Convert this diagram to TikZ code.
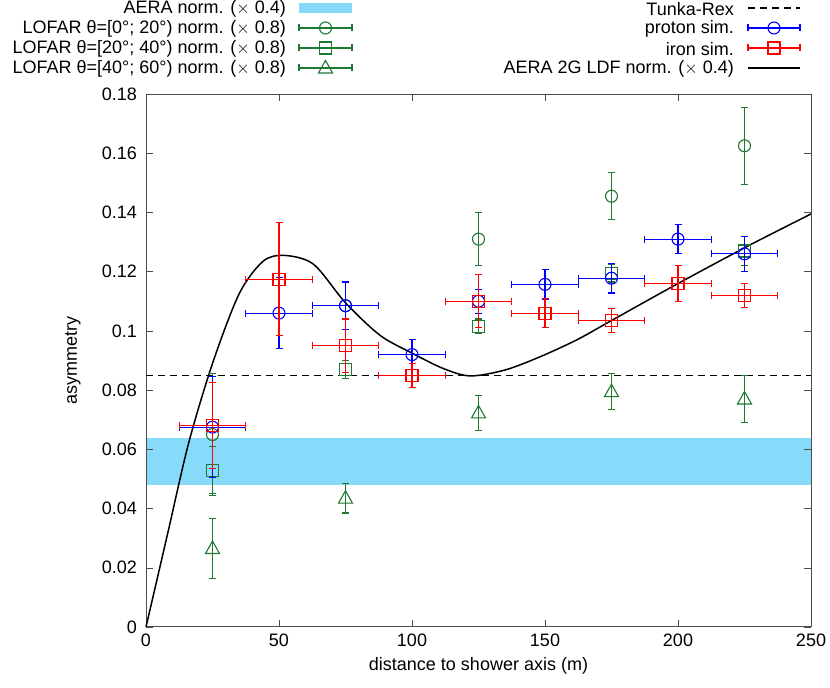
\documentclass[tikz,border=0pt]{standalone}
\usepackage{fontspec}
\setmainfont{Liberation Sans}
\usetikzlibrary{positioning,calc}

\definecolor{aerablue}{RGB}{135,218,250}
\definecolor{lofargreen}{RGB}{30,120,50}

\tikzset{
  bar/.style={line width=1.1pt},
  mk/.style={line width=1.1pt},
  lbl/.style={inner sep=1pt, font=\fontsize{18}{21}\selectfont},
}
% error bar with caps: colour, x, y, dx, dy
\newcommand{\ebar}[5]{%
  \draw[bar,#1] ($(#2,#3)+(0,-#5)$) -- ($(#2,#3)+(0,#5)$);
  \draw[bar,#1] ($(#2,#3)+(-3.5pt,-#5)$) -- ($(#2,#3)+(3.5pt,-#5)$);
  \draw[bar,#1] ($(#2,#3)+(-3.5pt,#5)$) -- ($(#2,#3)+(3.5pt,#5)$);
  \ifdim #4pt>0pt
  \draw[bar,#1] ($(#2,#3)+(-#4,0)$) -- ($(#2,#3)+(#4,0)$);
  \draw[bar,#1] ($(#2,#3)+(-#4,-3.5pt)$) -- ($(#2,#3)+(-#4,3.5pt)$);
  \draw[bar,#1] ($(#2,#3)+(#4,-3.5pt)$) -- ($(#2,#3)+(#4,3.5pt)$);
  \fi}
\newcommand{\mcirc}[3]{\draw[mk,#1] (#2,#3) circle (6pt);}
\newcommand{\msq}[3]{\draw[mk,#1] ($(#2,#3)+(-6pt,-6pt)$) rectangle ($(#2,#3)+(6pt,6pt)$);}
\newcommand{\mtri}[3]{\draw[mk,#1] ($(#2,#3)+(0,7.5pt)$) -- ($(#2,#3)+(-7pt,-5pt)$) -- ($(#2,#3)+(7pt,-5pt)$) -- cycle;}

\begin{document}
\begin{tikzpicture}[x=2.66pt, y=2961pt]
\useasboundingbox (-146pt,-61pt) rectangle (684pt,627pt);

% AERA band
\fill[aerablue] (0,0.048) rectangle (250,0.064);

% frame and ticks
\foreach \t in {0,0.02,...,0.18}{
  \draw[gray!60!black] (0,\t) -- ++(7pt,0);
  \draw[gray!60!black] (250,\t) -- ++(-7pt,0);
}
\foreach \t/\l in {0/0,0.02/0.02,0.04/0.04,0.06/0.06,0.08/0.08,0.1/0.1,0.12/0.12,0.14/0.14,0.16/0.16,0.18/0.18}
  \node[lbl, anchor=east] (yt\l) at ($(0,\t)+(-8pt,0)$) {\l};
\foreach \t in {0,50,...,250}{
  \draw[gray!60!black] (\t,0) -- ++(0,7pt);
  \draw[gray!60!black] (\t,0.18) -- ++(0,-7pt);
  \node[lbl, anchor=north] (xt\t) at ($(\t,0)+(0,-6pt)$) {\t};
}
\draw[gray!60!black, line width=1pt] (0,0) rectangle (250,0.18);

\node[lbl] (xlabel) at ($(125,0)+(0,-39pt)$) {distance to shower axis (m)};
\node[lbl, rotate=90] (ylabel) at ($(0,0.09)+(-73pt,0)$) {asymmetry};

% Tunka-Rex
\draw[black, line width=1.2pt, dash pattern=on 7pt off 5pt] (0,0.085) -- (250,0.085);

% AERA 2G LDF
\draw[black, line width=1.5pt] plot[smooth, tension=0.5] coordinates {
  (0,0) (8,0.031) (16,0.062) (25,0.089) (35,0.1125) (44,0.1235) (52,0.1255)
  (63,0.1225) (75,0.1095) (88,0.0985) (100,0.0925) (112,0.0872) (122,0.0848)
  (135,0.0868) (148,0.0912) (162,0.097) (175,0.1035) (200,0.116) (227,0.129) (250,0.1395)};

% LOFAR 0-20
\foreach \x/\y/\e in {25/0.065/0.0205,75/0.1085/0.008,125/0.131/0.009,175/0.1455/0.008,225/0.1625/0.013}{
  \ebar{lofargreen}{\x}{\y}{0}{\e}
  \mcirc{lofargreen}{\x}{\y}
}
% LOFAR 20-40
\foreach \x/\y/\e in {25/0.053/0.008,75/0.087/0.003,125/0.1015/0.0025,175/0.1195/0.003,225/0.127/0.005}{
  \ebar{lofargreen}{\x}{\y}{0}{\e}
  \msq{lofargreen}{\x}{\y}
}
% LOFAR 40-60
\foreach \x/\y/\e in {25/0.0265/0.0102,75/0.0435/0.005,125/0.0723/0.006,175/0.0795/0.006,225/0.077/0.008}{
  \ebar{lofargreen}{\x}{\y}{0}{\e}
  \mtri{lofargreen}{\x}{\y}
}
% proton
\foreach \x/\y/\e in {25/0.0675/0.017,50/0.106/0.012,75/0.1085/0.008,100/0.092/0.005,125/0.110/0.004,150/0.1157/0.005,175/0.1178/0.005,200/0.131/0.005,225/0.126/0.006}{
  \ebar{blue}{\x}{\y}{12.5}{\e}
  \mcirc{blue}{\x}{\y}
}
% iron
\foreach \x/\y/\e in {25/0.068/0.0145,50/0.1175/0.019,75/0.095/0.009,100/0.085/0.004,125/0.110/0.009,150/0.106/0.005,175/0.1035/0.004,200/0.116/0.006,225/0.112/0.004}{
  \ebar{red}{\x}{\y}{12.5}{\e}
  \msq{red}{\x}{\y}
}

% legend, left column
\node[lbl, anchor=east] (leg1) at (141pt,618pt) {AERA norm. ($\times$ 0.4)};
\node[lbl, anchor=east] (leg2) at (141pt,598pt) {LOFAR θ=[0°; 20°) norm. ($\times$ 0.8)};
\node[lbl, anchor=east] (leg3) at (141pt,578pt) {LOFAR θ=[20°; 40°) norm. ($\times$ 0.8)};
\node[lbl, anchor=east] (leg4) at (141pt,558pt) {LOFAR θ=[40°; 60°) norm. ($\times$ 0.8)};
\fill[aerablue] (153pt,614pt) rectangle (206pt,624pt);
\foreach \yy/\m in {599/mcirc,579/msq,559/mtri}{
  \draw[bar,lofargreen] (153pt,\yy pt) -- (206pt,\yy pt);
  \draw[bar,lofargreen] (153pt,\yy pt-3.5pt) -- (153pt,\yy pt+3.5pt);
  \draw[bar,lofargreen] (206pt,\yy pt-3.5pt) -- (206pt,\yy pt+3.5pt);
  \csname\m\endcsname{lofargreen}{179.5pt}{\yy pt}
}
% legend, right column
\node[lbl, anchor=east] (leg5) at (589pt,618pt) {Tunka-Rex};
\node[lbl, anchor=east] (leg6) at (589pt,598pt) {proton sim.};
\node[lbl, anchor=east] (leg7) at (589pt,578pt) {iron sim.};
\node[lbl, anchor=east] (leg8) at (589pt,558pt) {AERA 2G LDF norm. ($\times$ 0.4)};
\draw[black, line width=1.2pt, dash pattern=on 7pt off 5pt] (602pt,619pt) -- (654pt,619pt);
\foreach \yy/\c/\m in {599/blue/mcirc,579/red/msq}{
  \draw[bar,\c] (602pt,\yy pt) -- (654pt,\yy pt);
  \draw[bar,\c] (602pt,\yy pt-3.5pt) -- (602pt,\yy pt+3.5pt);
  \draw[bar,\c] (654pt,\yy pt-3.5pt) -- (654pt,\yy pt+3.5pt);
  \csname\m\endcsname{\c}{628pt}{\yy pt}
}
\draw[black, line width=1.5pt] (602pt,559pt) -- (654pt,559pt);
\end{tikzpicture}
\end{document}
